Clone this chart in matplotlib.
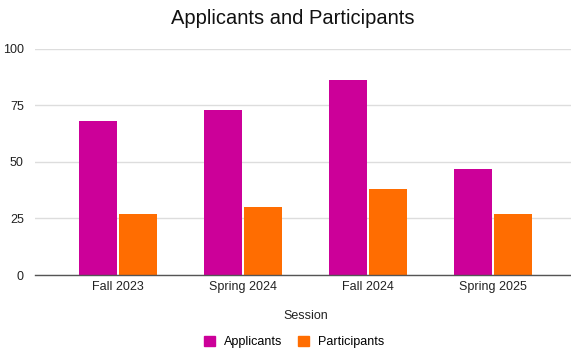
import numpy as np
import matplotlib
matplotlib.use('Agg')
import matplotlib.pyplot as plt
from matplotlib.patches import Patch

sessions = ['Fall 2023', 'Spring 2024', 'Fall 2024', 'Spring 2025']
applicants = [68, 73, 86, 47]
participants = [27, 30, 38, 27]
yticks = [0, 25, 50, 75, 100]

app_color = '#cc0099'
part_color = '#ff6d01'

plt.rcParams['font.family'] = ['Liberation Sans', 'DejaVu Sans']

fig = plt.figure(figsize=(5.71, 3.51), dpi=100)
ax = fig.add_axes([35 / 571, 1 - 275 / 351, 1 - 35 / 571, (275 - 48.7) / 351])

x = np.arange(len(sessions))
w = 0.305
off = 0.163
ax.bar(x - off, applicants, width=w, color=app_color, zorder=3)
ax.bar(x + off, participants, width=w, color=part_color, zorder=3)

ax.set_xlim(-0.664, 3.624)
ax.set_ylim(0, 100)
ax.set_yticks(yticks)
ax.set_xticks(x)
ax.set_xticklabels(sessions)
ax.tick_params(axis='both', length=0, labelsize=9, colors='#222222')
ax.tick_params(axis='y', pad=8)
ax.tick_params(axis='x', pad=4)
ax.grid(axis='y', color='#dddddd', linewidth=1, zorder=0)
for s in ['top', 'right', 'left']:
    ax.spines[s].set_visible(False)
ax.spines['bottom'].set_color('#555555')
ax.spines['bottom'].set_linewidth(1)
ax.spines['bottom'].set_zorder(4)

fig.text(293 / 571, 1 - 18 / 351, 'Applicants and Participants', ha='center', va='center',
         fontsize=14.5, color='#111111')
fig.text(306 / 571, 1 - 316 / 351, 'Session', ha='center', va='center',
         fontsize=9, color='#222222')

handles = [Patch(color=app_color, label='Applicants'),
           Patch(color=part_color, label='Participants')]
fig.legend(handles=handles, loc='center', bbox_to_anchor=(294 / 571, 1 - 342 / 351),
           ncol=2, frameon=False, fontsize=9, handlelength=0.9, handleheight=0.9,
           handletextpad=0.7, columnspacing=1.3)

fig.savefig('out.png', dpi=100, facecolor='white')
